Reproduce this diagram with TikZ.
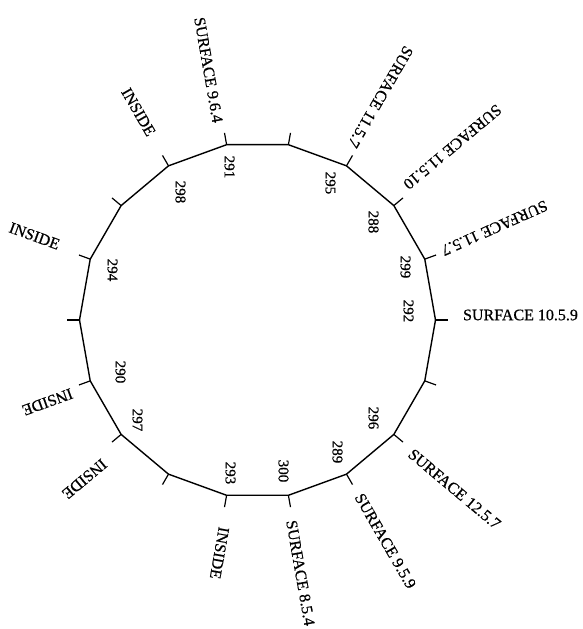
\documentclass[tikz,border=0pt]{standalone}
\usepackage{fontspec}
\setmainfont[BoldFont={Liberation Serif},BoldFeatures={FakeBold=0.6}]{Liberation Serif}
\begin{document}
\begin{tikzpicture}[x=1pt,y=1pt,
  edge/.style={line width=1.4pt, line join=round},
  ticksty/.style={line width=1.2pt},
  num/.style={font=\bfseries\fontsize{15}{16}\selectfont, rotate=-90, inner sep=0pt},
  lbl/.style={font=\bfseries\fontsize{16}{17}\selectfont, inner sep=0pt}]
\useasboundingbox (-257.5,-309) rectangle (325.5,320);
% vertices of the wheel and tick ends
\foreach \k in {0,...,17} {
  \coordinate (v\k) at (\k*20:178);
  \coordinate (t\k) at (\k*20:190);
}
\draw[edge] (v0) -- (v1) -- (v2) -- (v3) -- (v4) -- (v5) -- (v6) -- (v7) -- (v8)
  -- (v9) -- (v10) -- (v11) -- (v12) -- (v13) -- (v14) -- (v15) -- (v16) -- (v17) -- cycle;
\foreach \k in {0,...,17} \draw[ticksty] (v\k) -- (t\k);
% residue numbers
\node[num] (n292) at (151,9) {292};
\node[num] (n299) at (148,53) {299};
\node[num] (n288) at (116,98) {288};
\node[num] (n295) at (73,137) {295};
\node[num] (n291) at (-28,153) {291};
\node[num] (n298) at (-77,128) {298};
\node[num] (n294) at (-145,50) {294};
\node[num] (n290) at (-137,-52) {290};
\node[num] (n297) at (-120,-100) {297};
\node[num] (n293) at (-27,-153) {293};
\node[num] (n300) at (26,-151) {300};
\node[num] (n289) at (80,-132) {289};
\node[num] (n296) at (116,-98) {296};
% labels
\node[lbl, rotate=0]   (l0)   at (263,5)     {SURFACE 10.5.9};
\node[lbl, rotate=204] (l20)  at (237,92)    {SURFACE 11.5.7};
\node[lbl, rotate=220] (l40)  at (195,173)   {SURFACE 11.5.10};
\node[lbl, rotate=240] (l60)  at (123,223)   {SURFACE 11.5.7};
\node[lbl, rotate=280] (l100) at (-49,250)   {SURFACE 9.6.4};
\node[lbl, rotate=300] (l120) at (-119,208)  {INSIDE};
\node[lbl, rotate=340] (l160) at (-223,84)   {INSIDE};
\node[lbl, rotate=200] (l200) at (-210,-82)  {INSIDE};
\node[lbl, rotate=220] (l220) at (-173,-159) {INSIDE};
\node[lbl, rotate=260] (l260) at (-38,-233)  {INSIDE};
\node[lbl, rotate=280] (l280) at (43,-253)   {SURFACE 8.5.4};
\node[lbl, rotate=300] (l300) at (128,-221)  {SURFACE 9.5.9};
\node[lbl, rotate=320] (l320) at (197,-169)  {SURFACE 12.5.7};
\end{tikzpicture}
\end{document}
